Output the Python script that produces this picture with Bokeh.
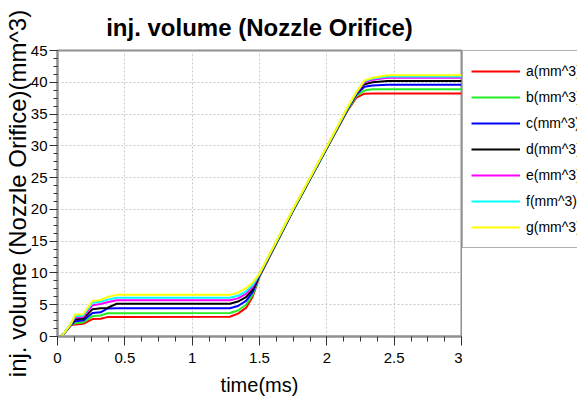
from bokeh.plotting import figure
from bokeh.layouts import row
from bokeh.models import SingleIntervalTicker, Legend, LegendItem, Range1d, Title
from bokeh.embed import file_html
from bokeh.resources import INLINE

# time (ms)
t = [0, 0.03, 0.10, 0.13, 0.19, 0.26, 0.32, 0.37, 0.44, 1.28, 1.34, 1.40, 1.45, 1.50,
     1.75, 2.00, 2.15, 2.22, 2.28, 2.34, 2.45, 3.0]

a = [0, 0, 1.75, 1.9, 2.0, 2.75, 2.8, 3.05, 3.05, 3.1, 3.6, 4.5, 6.3, 9.4,
     19.8, 29.6, 35.4, 37.6, 38.2, 38.25, 38.25, 38.25]
b = [0, 0, 1.8, 2.1, 2.2, 3.2, 3.3, 3.65, 3.65, 3.7, 4.1, 5.0, 6.6, 9.5,
     19.8, 29.6, 35.5, 37.9, 38.7, 38.9, 38.9, 38.9]
c = [0, 0, 1.85, 2.4, 2.5, 3.7, 3.8, 4.4, 4.45, 4.45, 4.8, 5.6, 7.0, 9.6,
     19.9, 29.7, 35.6, 38.1, 39.3, 39.5, 39.6, 39.6]
d = [0, 0, 1.9, 2.7, 2.8, 4.3, 4.45, 4.5, 5.15, 5.15, 5.5, 6.2, 7.4, 9.7,
     19.9, 29.7, 35.7, 38.2, 39.7, 40.0, 40.2, 40.2]
e = [0, 0, 1.95, 2.95, 3.05, 4.9, 5.1, 5.4, 5.7, 5.7, 6.0, 6.7, 7.8, 9.8,
     20.0, 29.8, 35.8, 38.3, 40.0, 40.4, 40.7, 40.7]
f = [0, 0, 2.0, 3.2, 3.3, 5.3, 5.45, 5.8, 6.1, 6.1, 6.4, 7.1, 8.1, 9.8,
     20.0, 29.8, 35.8, 38.4, 40.2, 40.6, 40.9, 40.9]
g = [0, 0, 2.05, 3.45, 3.5, 5.6, 5.75, 6.2, 6.55, 6.55, 6.9, 7.6, 8.5, 9.9,
     20.1, 29.9, 35.9, 38.5, 40.3, 40.7, 41.1, 41.1]

names = ["a(mm^3)", "b(mm^3)", "c(mm^3)", "d(mm^3)", "e(mm^3)", "f(mm^3)", "g(mm^3)"]
series = [a, b, c, d, e, f, g]
colors = ["#ff0000", "#22ee22", "#0000ff", "#000000", "#ff00ff", "#00ffff", "#ffff00"]

title_text = "inj. volume (Nozzle Orifice)"
x_label = "time(ms)"
y_label = "inj. volume (Nozzle Orifice)(mm^3)"

FONT = "Liberation Sans"
TOP, BOTTOM = 50, 67
H = 403

p = figure(width=462, height=H, output_backend="svg", toolbar_location=None,
           x_range=Range1d(0, 3), y_range=Range1d(0, 45),
           min_border_left=0, min_border_right=1, min_border_bottom=BOTTOM,
           min_border_top=TOP)
p.background_fill_color = "white"
p.border_fill_color = "white"
p.outline_line_color = "#909090"
p.outline_line_width = 2

p.title = Title(text=title_text, align="center", text_font=FONT,
                text_font_size="24px", text_font_style="bold", text_color="black",
                standoff=20, offset=-4)

for ax in (p.xaxis[0], p.yaxis[0]):
    ax.axis_line_color = "#909090"
    ax.axis_line_width = 2
    ax.major_tick_line_color = "#333333"
    ax.minor_tick_line_color = "#333333"
    ax.major_label_text_font = FONT
    ax.major_label_text_font_size = "15px"
    ax.major_label_text_color = "black"
    ax.axis_label_text_font_style = "normal"
    ax.axis_label_text_color = "black"
    ax.axis_label_text_font = FONT

p.xaxis.ticker = SingleIntervalTicker(interval=0.5, num_minor_ticks=4)
p.yaxis.ticker = SingleIntervalTicker(interval=5, num_minor_ticks=4)
p.xaxis.major_tick_out = 9
p.xaxis.major_tick_in = 0
p.xaxis.minor_tick_out = 5
p.xaxis.minor_tick_in = 0
p.yaxis.major_tick_out = 8
p.yaxis.major_tick_in = 0
p.yaxis.minor_tick_out = 4
p.yaxis.minor_tick_in = 0
p.xaxis.major_label_standoff = 7
p.yaxis.major_label_standoff = 2

p.xaxis.axis_label = x_label
p.xaxis.axis_label_text_font_size = "20px"
p.xaxis.axis_label_standoff = 8
p.yaxis.axis_label = y_label
p.yaxis.axis_label_text_font_size = "24px"
p.yaxis.axis_label_standoff = -3

p.xgrid.ticker = p.xaxis.ticker
p.ygrid.ticker = p.yaxis.ticker
for gr in (p.xgrid[0], p.ygrid[0]):
    gr.grid_line_color = "#c8c8c8"
    gr.grid_line_dash = "2 2"
    gr.grid_line_width = 1

for ys, col in zip(series, colors):
    p.line(t, ys, line_color=col, line_width=2)

# legend panel: a second, axis-less figure whose frame clips the legend at the window edge
q = figure(width=577 - 462, height=H, output_backend="svg", toolbar_location=None,
           x_range=Range1d(0, 3), y_range=Range1d(100, 101),
           x_axis_location=None, y_axis_location=None,
           min_border_left=0, min_border_right=0, min_border_bottom=BOTTOM,
           min_border_top=TOP)
q.grid.visible = False
q.outline_line_color = None
q.background_fill_color = "white"
q.border_fill_color = "white"

items = []
for name, ys, col in zip(names, series, colors):
    r = q.line(t, ys, line_color=col, line_width=2)  # off-range: only its legend swatch shows
    items.append(LegendItem(label=name, renderers=[r]))

legend = Legend(items=items, location="top_left", margin=0, padding=8, spacing=2,
                label_height=24, glyph_height=24, glyph_width=49, label_standoff=6,
                label_text_font=FONT, label_text_font_size="14px",
                label_text_color="black",
                border_line_color="#606060", border_line_width=1.5,
                background_fill_color="white", background_fill_alpha=1.0)
q.add_layout(legend, "center")

layout = row(p, q)
open("out.html", "w").write(file_html(layout, INLINE))
